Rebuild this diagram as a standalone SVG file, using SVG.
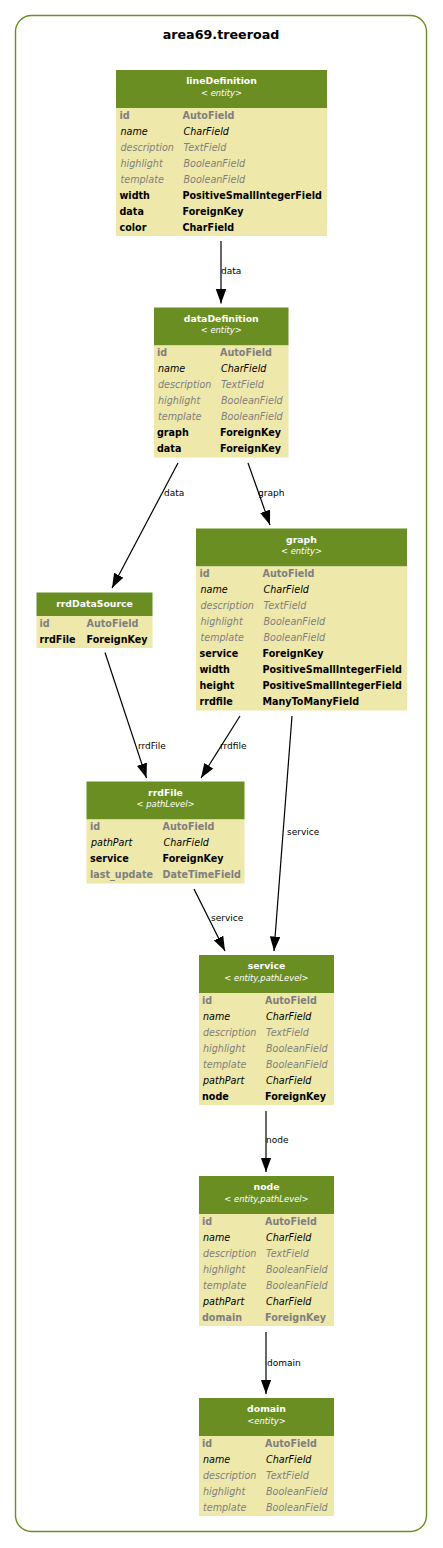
<svg xmlns="http://www.w3.org/2000/svg" width="443" height="1548" viewBox="0 0 443 1548">
<style>
text{font-family:"DejaVu Sans","Liberation Sans",sans-serif}
.hd{fill:#6b8e23}
.bd{fill:#eee8aa}
.tt{font-size:9.3px;font-weight:bold;fill:#fff;text-anchor:middle}
.st{font-size:8.4px;font-style:italic;fill:#fff;text-anchor:middle}
.f{font-size:9.6px}
.b{font-weight:bold;fill:#000}
.bg{font-weight:bold;fill:#7f7f7f}
.i{font-style:italic;fill:#000}
.ig{font-style:italic;fill:#7f7f7f}
.e{stroke:#000;stroke-width:1.2;fill:none;marker-end:url(#ah)}
.el{font-size:9px;fill:#000}
</style>
<defs>
<marker id="ah" markerUnits="userSpaceOnUse" markerWidth="15" markerHeight="11" refX="14.5" refY="5.25" orient="auto">
<path d="M0,0 L14.5,5.25 L0,10.5 z" fill="#000"/>
</marker>
</defs>
<rect x="15.5" y="15.5" width="411" height="1516" rx="16" fill="#fff" stroke="#6b8e23" stroke-width="1.4"/>
<text x="221" y="39.3" text-anchor="middle" style="font-size:12.7px;font-weight:bold" fill="#000">area69.treeroad</text>

<g id="connectors">
<line class="e" x1="221" y1="241" x2="221" y2="303.5"/>
<text class="el" x="221" y="274">data</text>
<line class="e" x1="178" y1="463" x2="112" y2="588"/>
<text class="el" x="164" y="495.5">data</text>
<line class="e" x1="248" y1="463" x2="270" y2="525"/>
<text class="el" x="258" y="495.5">graph</text>
<line class="e" x1="105" y1="652.5" x2="146.5" y2="778"/>
<text class="el" x="138" y="749">rrdFile</text>
<line class="e" x1="240" y1="716" x2="201" y2="778"/>
<text class="el" x="220" y="749">rrdfile</text>
<line class="e" x1="292" y1="716" x2="274" y2="951"/>
<text class="el" x="287" y="835">service</text>
<line class="e" x1="194" y1="889" x2="225" y2="951"/>
<text class="el" x="211" y="921">service</text>
<line class="e" x1="266" y1="1111" x2="266" y2="1172"/>
<text class="el" x="266" y="1143">node</text>
<line class="e" x1="266" y1="1332" x2="266" y2="1394"/>
<text class="el" x="267" y="1365.5">domain</text>
</g>

<g id="lineDefinition">
<rect class="hd" x="116" y="70" width="211" height="38"/>
<rect class="bd" x="116" y="108" width="211" height="128"/>
<text class="tt" x="221.5" y="84">lineDefinition</text>
<text class="st" x="221.5" y="95.5">&lt; entity&gt;</text>
<g class="f">
<text class="bg" x="119.5" y="118.5">id</text><text class="bg" x="182.5" y="118.5">AutoField</text>
<text class="i" x="120.5" y="134.5">name</text><text class="i" x="183.5" y="134.5">CharField</text>
<text class="ig" x="120.5" y="150.5">description</text><text class="ig" x="183.5" y="150.5">TextField</text>
<text class="ig" x="120.5" y="166.5">highlight</text><text class="ig" x="183.5" y="166.5">BooleanField</text>
<text class="ig" x="120.5" y="182.5">template</text><text class="ig" x="183.5" y="182.5">BooleanField</text>
<text class="b" x="119.5" y="198.5">width</text><text class="b" x="182.5" y="198.5">PositiveSmallIntegerField</text>
<text class="b" x="119.5" y="214.5">data</text><text class="b" x="182.5" y="214.5">ForeignKey</text>
<text class="b" x="119.5" y="230.5">color</text><text class="b" x="182.5" y="230.5">CharField</text>
</g>
</g>

<g id="dataDefinition">
<rect class="hd" x="154" y="307.5" width="134.5" height="38"/>
<rect class="bd" x="154" y="345.5" width="134.5" height="112"/>
<text class="tt" x="221.25" y="321.5">dataDefinition</text>
<text class="st" x="221.25" y="333">&lt; entity&gt;</text>
<g class="f">
<text class="bg" x="157" y="356">id</text><text class="bg" x="220" y="356">AutoField</text>
<text class="i" x="158" y="372">name</text><text class="i" x="221" y="372">CharField</text>
<text class="ig" x="158" y="388">description</text><text class="ig" x="221" y="388">TextField</text>
<text class="ig" x="158" y="404">highlight</text><text class="ig" x="221" y="404">BooleanField</text>
<text class="ig" x="158" y="420">template</text><text class="ig" x="221" y="420">BooleanField</text>
<text class="b" x="157" y="436">graph</text><text class="b" x="220" y="436">ForeignKey</text>
<text class="b" x="157" y="452">data</text><text class="b" x="220" y="452">ForeignKey</text>
</g>
</g>

<g id="graph">
<rect class="hd" x="196" y="528.5" width="211" height="38"/>
<rect class="bd" x="196" y="566.5" width="211" height="144"/>
<text class="tt" x="301.5" y="542.5">graph</text>
<text class="st" x="301.5" y="554">&lt; entity&gt;</text>
<g class="f">
<text class="bg" x="199.5" y="577">id</text><text class="bg" x="262.5" y="577">AutoField</text>
<text class="i" x="200.5" y="593">name</text><text class="i" x="263.5" y="593">CharField</text>
<text class="ig" x="200.5" y="609">description</text><text class="ig" x="263.5" y="609">TextField</text>
<text class="ig" x="200.5" y="625">highlight</text><text class="ig" x="263.5" y="625">BooleanField</text>
<text class="ig" x="200.5" y="641">template</text><text class="ig" x="263.5" y="641">BooleanField</text>
<text class="b" x="199.5" y="657">service</text><text class="b" x="262.5" y="657">ForeignKey</text>
<text class="b" x="199.5" y="673">width</text><text class="b" x="262.5" y="673">PositiveSmallIntegerField</text>
<text class="b" x="199.5" y="689">height</text><text class="b" x="262.5" y="689">PositiveSmallIntegerField</text>
<text class="b" x="199.5" y="705">rrdfile</text><text class="b" x="262.5" y="705">ManyToManyField</text>
</g>
</g>

<g id="rrdDataSource">
<rect class="hd" x="36.5" y="592.5" width="116" height="23.5"/>
<rect class="bd" x="36.5" y="616" width="116" height="32"/>
<text class="tt" x="94.5" y="606.8">rrdDataSource</text>
<g class="f">
<text class="bg" x="39.5" y="626.5">id</text><text class="bg" x="86.5" y="626.5">AutoField</text>
<text class="b" x="39.5" y="642.5">rrdFile</text><text class="b" x="86.5" y="642.5">ForeignKey</text>
</g>
</g>

<g id="rrdFile">
<rect class="hd" x="86.5" y="781.5" width="158" height="38"/>
<rect class="bd" x="86.5" y="819.5" width="158" height="64"/>
<text class="tt" x="165.5" y="795.5">rrdFile</text>
<text class="st" x="165.5" y="807">&lt; pathLevel&gt;</text>
<g class="f">
<text class="bg" x="90" y="830">id</text><text class="bg" x="162.5" y="830">AutoField</text>
<text class="i" x="91" y="846">pathPart</text><text class="i" x="163.5" y="846">CharField</text>
<text class="b" x="90" y="862">service</text><text class="b" x="162.5" y="862">ForeignKey</text>
<text class="bg" x="90" y="878">last_update</text><text class="bg" x="162.5" y="878">DateTimeField</text>
</g>
</g>

<g id="service">
<rect class="hd" x="199" y="955" width="135" height="38"/>
<rect class="bd" x="199" y="993" width="135" height="112"/>
<text class="tt" x="266.5" y="969">service</text>
<text class="st" x="266.5" y="980.5">&lt; entity,pathLevel&gt;</text>
<g class="f">
<text class="bg" x="202" y="1003.5">id</text><text class="bg" x="265" y="1003.5">AutoField</text>
<text class="i" x="203" y="1019.5">name</text><text class="i" x="266" y="1019.5">CharField</text>
<text class="ig" x="203" y="1035.5">description</text><text class="ig" x="266" y="1035.5">TextField</text>
<text class="ig" x="203" y="1051.5">highlight</text><text class="ig" x="266" y="1051.5">BooleanField</text>
<text class="ig" x="203" y="1067.5">template</text><text class="ig" x="266" y="1067.5">BooleanField</text>
<text class="i" x="203" y="1083.5">pathPart</text><text class="i" x="266" y="1083.5">CharField</text>
<text class="b" x="202" y="1099.5">node</text><text class="b" x="265" y="1099.5">ForeignKey</text>
</g>
</g>

<g id="node">
<rect class="hd" x="199" y="1176" width="135" height="38"/>
<rect class="bd" x="199" y="1214" width="135" height="112"/>
<text class="tt" x="266.5" y="1190">node</text>
<text class="st" x="266.5" y="1201.5">&lt; entity,pathLevel&gt;</text>
<g class="f">
<text class="bg" x="202" y="1224.5">id</text><text class="bg" x="265" y="1224.5">AutoField</text>
<text class="i" x="203" y="1240.5">name</text><text class="i" x="266" y="1240.5">CharField</text>
<text class="ig" x="203" y="1256.5">description</text><text class="ig" x="266" y="1256.5">TextField</text>
<text class="ig" x="203" y="1272.5">highlight</text><text class="ig" x="266" y="1272.5">BooleanField</text>
<text class="ig" x="203" y="1288.5">template</text><text class="ig" x="266" y="1288.5">BooleanField</text>
<text class="i" x="203" y="1304.5">pathPart</text><text class="i" x="266" y="1304.5">CharField</text>
<text class="bg" x="202" y="1320.5">domain</text><text class="bg" x="265" y="1320.5">ForeignKey</text>
</g>
</g>

<g id="domain">
<rect class="hd" x="199" y="1398" width="135" height="38"/>
<rect class="bd" x="199" y="1436" width="135" height="80"/>
<text class="tt" x="266.5" y="1412">domain</text>
<text class="st" x="266.5" y="1423.5">&lt;entity&gt;</text>
<g class="f">
<text class="bg" x="202" y="1446.5">id</text><text class="bg" x="265" y="1446.5">AutoField</text>
<text class="i" x="203" y="1462.5">name</text><text class="i" x="266" y="1462.5">CharField</text>
<text class="ig" x="203" y="1478.5">description</text><text class="ig" x="266" y="1478.5">TextField</text>
<text class="ig" x="203" y="1494.5">highlight</text><text class="ig" x="266" y="1494.5">BooleanField</text>
<text class="ig" x="203" y="1510.5">template</text><text class="ig" x="266" y="1510.5">BooleanField</text>
</g>
</g>
</svg>
